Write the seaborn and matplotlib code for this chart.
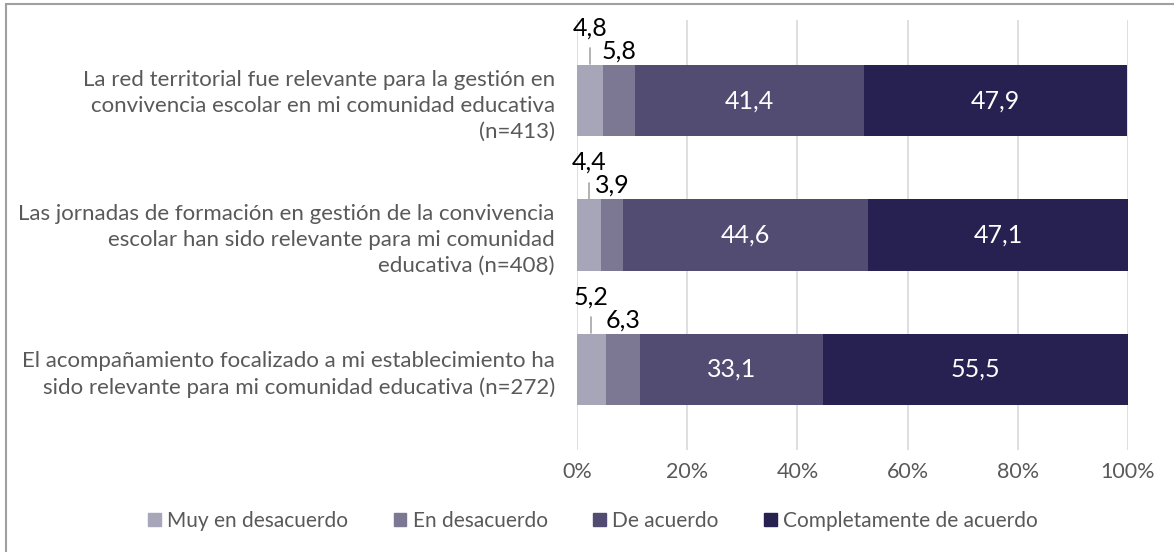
import pandas as pd
import matplotlib.pyplot as plt
import matplotlib.patches as mpatches
import seaborn as sns

# Data (percent)
preguntas = [
    "La red territorial fue relevante para la gestión en\nconvivencia escolar en mi comunidad educativa\n(n=413)",
    "Las jornadas de formación en gestión de la convivencia\nescolar han sido relevante para mi comunidad\neducativa (n=408)",
    "El acompañamiento focalizado a mi establecimiento ha\nsido relevante para mi comunidad educativa (n=272)",
]
categorias = ['Muy en desacuerdo', 'En desacuerdo', 'De acuerdo', 'Completamente de acuerdo']
muy_desacuerdo = [4.8, 4.4, 5.2]
desacuerdo = [5.8, 3.9, 6.3]
de_acuerdo = [41.4, 44.6, 33.1]
completamente = [47.9, 47.1, 55.5]
colores = ['#A7A6B9', '#7C7893', '#524C72', '#262151']

sns.set_style("white")
plt.rcParams['font.family'] = ['Lato', 'DejaVu Sans']

df = pd.DataFrame({'Pregunta': preguntas,
                   categorias[0]: muy_desacuerdo,
                   categorias[1]: desacuerdo,
                   categorias[2]: de_acuerdo,
                   categorias[3]: completamente})
cum = df[categorias].cumsum(axis=1)

fig = plt.figure(figsize=(11.74, 5.52), dpi=100)
ax = fig.add_axes([577 / 1174, 1 - 450 / 552, 551 / 1174, 430 / 552])

# stacked bars: draw cumulative totals from largest to smallest
for i in range(len(categorias) - 1, -1, -1):
    sns.barplot(x=cum[categorias[i]], y=df['Pregunta'], orient='h', color=colores[i],
                width=0.53, ax=ax, saturation=1, linewidth=0, zorder=2)

ax.set_xlim(0, 100)
ax.set_ylim(2.6, -0.6)
ax.set_xticks([0, 20, 40, 60, 80, 100])
ax.set_xticklabels([f'{v}%' for v in [0, 20, 40, 60, 80, 100]], color='#595959', fontsize=15.5)
ax.tick_params(axis='x', length=0, pad=9)
ax.tick_params(axis='y', length=0, pad=16)
ax.set_yticks(range(len(preguntas)))
ax.set_yticklabels(preguntas, color='#595959', fontsize=16, linespacing=1.38, ha='right')
ax.set_xlabel('')
ax.set_ylabel('')
ax.grid(axis='x', color='#D9D9D9', lw=1.2, zorder=0)
ax.set_axisbelow(True)
for s in ax.spines.values():
    s.set_visible(False)

fmt = lambda v: f'{v:.1f}'.replace('.', ',')
for r in range(len(preguntas)):
    starts = [0] + list(cum.iloc[r, :-1])
    vals = df.loc[r, categorias].tolist()
    # large segments: centered white labels
    for j in (2, 3):
        ax.text(starts[j] + vals[j] / 2, r, fmt(vals[j]), ha='center', va='center',
                color='white', fontsize=18)
    # small segments: labels above
    x0 = starts[0] + vals[0] / 2
    ax.plot([x0, x0], [r - 0.27, r - 0.39], color='#A6A6A6', lw=1.2, zorder=3)
    ax.text(x0, r - 0.54, fmt(vals[0]), ha='center', va='center', color='black', fontsize=18)
    ax.text(starts[1] + vals[1] / 2, r - 0.37, fmt(vals[1]), ha='center', va='center',
            color='black', fontsize=18)

handles = [mpatches.Patch(color=c, label=l) for c, l in zip(colores, categorias)]
fig.legend(handles=handles, loc='center', bbox_to_anchor=(593 / 1174, 1 - 521 / 552), ncol=4,
           frameon=False, fontsize=15, handlelength=0.6, handleheight=0.6, handletextpad=0.3,
           columnspacing=2.2, labelcolor='#595959')

# chart frame (partially cropped)
fig.patches.append(mpatches.Rectangle((6 / 1174, -0.1), 1.2, 1.1 - 4 / 552, transform=fig.transFigure,
                                      fill=False, edgecolor='#A0A0A0', lw=1.5))

fig.savefig('out.png', dpi=100)
